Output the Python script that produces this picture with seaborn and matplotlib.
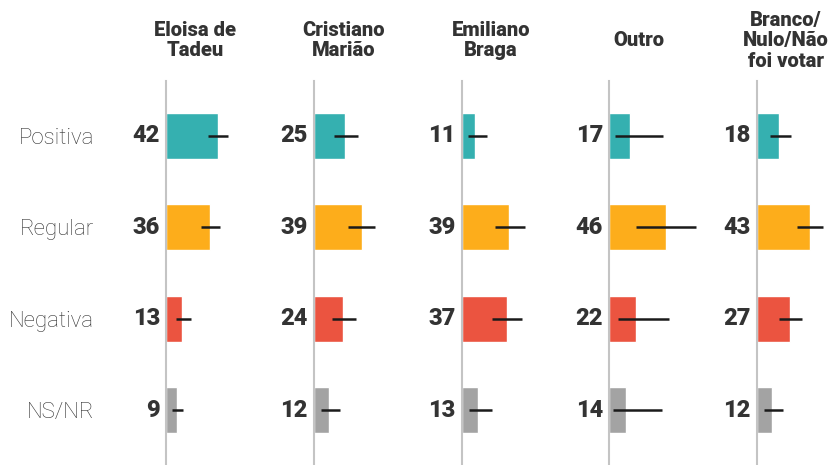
import seaborn as sns
import matplotlib.pyplot as plt
import pandas as pd
import numpy as np

sns.set_style("white")
plt.rcParams["font.family"] = ["Roboto", "DejaVu Sans"]

# ============================================================
# dados
# ============================================================
categorias = ["Positiva", "Regular", "Negativa", "NS/NR"]
candidatos = ["Eloisa de\nTadeu", "Cristiano\nMarião", "Emiliano\nBraga",
              "Outro", "Branco/\nNulo/Não\nfoi votar"]

eloisa = [42, 36, 13, 9]
cristiano = [25, 39, 24, 12]
emiliano = [11, 39, 37, 13]
outro = [17, 46, 22, 14]
branco = [18, 43, 27, 12]

# limites inferior / superior das barras de erro
eloisa_lo, eloisa_hi = [34, 28, 8, 5], [50, 44, 20, 14]
cristiano_lo, cristiano_hi = [16, 28, 15, 6], [36, 50, 34, 21]
emiliano_lo, emiliano_hi = [5, 27, 25, 6], [21, 52, 49, 25]
outro_lo, outro_hi = [5, 22, 7, 3], [44, 71, 49, 43]
branco_lo, branco_hi = [11, 33, 18, 6], [28, 54, 37, 21]

valores = [eloisa, cristiano, emiliano, outro, branco]
lows = [eloisa_lo, cristiano_lo, emiliano_lo, outro_lo, branco_lo]
highs = [eloisa_hi, cristiano_hi, emiliano_hi, outro_hi, branco_hi]

cores = ["#35B0B0", "#FDAD1B", "#EB5440", "#A3A3A3"]
texto = "#333333"

# ============================================================
# figura: 5 painéis lado a lado
# ============================================================
W, H = 832, 465
fig = plt.figure(figsize=(W / 100, H / 100), dpi=100)

px_por_unidade = 1.225
x_max = 60
eixo_px = [166.3, 314, 461.7, 609.3, 757]
topo_px = 81

for k, (nome, vals, lo, hi) in enumerate(zip(candidatos, valores, lows, highs)):
    ax = fig.add_axes([eixo_px[k] / W, 0, x_max * px_por_unidade / W,
                       (H - topo_px) / H])
    df = pd.DataFrame({"avaliacao": categorias, "valor": vals})
    sns.barplot(
        data=df, x="valor", y="avaliacao", hue="avaliacao",
        palette=cores, width=0.5, errorbar=None, legend=False,
        orient="h", ax=ax, saturation=1,
    )
    ax.hlines(np.arange(len(categorias)), lo, hi, color="#1a1a1a",
              lw=1.8, clip_on=False, zorder=4)

    for i, v in enumerate(vals):
        ax.annotate(str(v), xy=(0, i), xytext=(-4.5, 0),
                    textcoords="offset points", ha="right", va="center",
                    fontsize=17, fontweight="black", color=texto)

    ax.set_xlim(0, x_max)
    ax.set_ylim(len(categorias) - 0.4, -0.6)
    ax.set_xlabel("")
    ax.set_ylabel("")
    ax.set_xticks([])
    for s in ["top", "right", "bottom"]:
        ax.spines[s].set_visible(False)
    ax.spines["left"].set_color("#c4c4c4")
    ax.spines["left"].set_linewidth(1.5)

    if k == 0:
        ax.tick_params(axis="y", length=0, pad=52)
        for t in ax.get_yticklabels():
            t.set_fontsize(16)
            t.set_fontweight("light")
            t.set_color(texto)
    else:
        ax.set_yticklabels([])
        ax.tick_params(axis="y", length=0)

    # cabeçalho do candidato (centrado verticalmente)
    ax.annotate(nome, xy=(0, 1), xycoords="axes fraction",
                xytext=(21, 29), textcoords="offset points",
                ha="center", va="center", fontsize=14.5,
                fontweight="black", color=texto, linespacing=1.1)

fig.savefig("out.png", dpi=100)
plt.close()
